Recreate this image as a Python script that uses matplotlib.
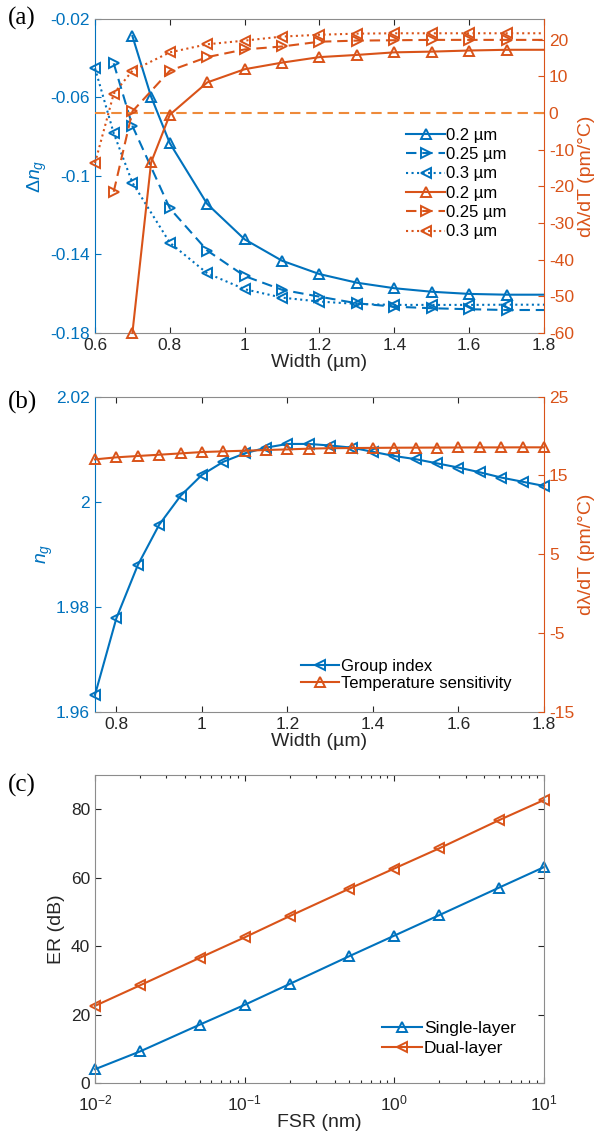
import matplotlib
matplotlib.use('Agg')
import matplotlib.pyplot as plt
from matplotlib.ticker import FuncFormatter, LogLocator, NullFormatter

plt.rcParams['font.family'] = ['Liberation Sans', 'DejaVu Sans']
plt.rcParams['font.size'] = 12.5
plt.rcParams['axes.unicode_minus'] = False
plt.rcParams['mathtext.fontset'] = 'custom'
plt.rcParams['mathtext.rm'] = 'Liberation Sans'
plt.rcParams['mathtext.it'] = 'Liberation Sans:italic'
plt.rcParams['xtick.direction'] = 'in'
plt.rcParams['ytick.direction'] = 'in'

BLUE = '#0072BD'
ORANGE = '#D95319'
ZERO = '#EE8A3A'
DARK = '#262626'
FRAME = '#8c8c8c'
LABEL_FS = 14

# (a) group index change and thermal shift vs. width, three thicknesses
w_02 = [0.7, 0.75, 0.8, 0.9, 1.0, 1.1, 1.2, 1.3, 1.4, 1.5, 1.6, 1.7, 1.8]
w_025 = [0.65, 0.7, 0.8, 0.9, 1.0, 1.1, 1.2, 1.3, 1.4, 1.5, 1.6, 1.7, 1.8]
w_03 = [0.6, 0.65, 0.7, 0.8, 0.9, 1.0, 1.1, 1.2, 1.3, 1.4, 1.5, 1.6, 1.7, 1.8]

dng_02 = [-0.0287, -0.0596, -0.0833, -0.1143, -0.1323, -0.1432, -0.1500,
          -0.1544, -0.1572, -0.1590, -0.1601, -0.1605, -0.1605]
dng_025 = [-0.0426, -0.0745, -0.1165, -0.1380, -0.1510, -0.1580, -0.1615,
           -0.1649, -0.1666, -0.1674, -0.1679, -0.1683, -0.1683]
dng_03 = [-0.0451, -0.0782, -0.1034, -0.1340, -0.1496, -0.1577, -0.1620,
          -0.1640, -0.1652, -0.1657, -0.1657, -0.1657, -0.1656, -0.1656]

dldt_02 = [-60.0, -13.5, -0.5, 8.3, 11.9, 13.7, 15.2, 15.8, 16.5, 16.7, 17.0, 17.2, 17.2]
dldt_025 = [-21.5, 0.4, 11.5, 15.2, 17.3, 18.1, 19.4, 19.7, 19.8, 19.9, 19.9, 19.9, 19.9]
dldt_03 = [-13.7, 5.2, 11.5, 16.5, 18.7, 19.7, 20.8, 21.3, 21.6, 21.7, 21.7, 21.7, 21.7, 21.7]

labels_a = ['0.2 µm', '0.25 µm', '0.3 µm']

# (b) group index and temperature sensitivity
w_b = [0.75, 0.8, 0.85, 0.9, 0.95, 1.0, 1.05, 1.1, 1.15, 1.2, 1.25, 1.3, 1.35,
       1.4, 1.45, 1.5, 1.55, 1.6, 1.65, 1.7, 1.75, 1.8]
ng = [1.9632, 1.9778, 1.9879, 1.9956, 2.0011, 2.0051, 2.0076, 2.0092, 2.0103,
      2.0110, 2.0110, 2.0107, 2.0103, 2.0095, 2.0087, 2.0081, 2.0073, 2.0065,
      2.0056, 2.0046, 2.0038, 2.0030]
ts = [17.04, 17.30, 17.47, 17.63, 17.80, 17.97, 18.06, 18.14, 18.23, 18.31,
      18.40, 18.46, 18.48, 18.50, 18.52, 18.53, 18.54, 18.55, 18.56, 18.56,
      18.57, 18.57]

# (c) extinction ratio vs. FSR
fsr = [0.01, 0.02, 0.05, 0.1, 0.2, 0.5, 1, 2, 5, 10]
er_single = [4.1, 9.3, 17.1, 22.9, 29.0, 37.1, 43.1, 49.1, 57.1, 63.1]
er_dual = [22.6, 28.6, 36.6, 42.6, 48.8, 56.8, 62.7, 68.6, 76.8, 82.7]

gfmt = FuncFormatter(lambda v, p: '%g' % v)
mk = dict(markersize=6.5, markerfacecolor='none', markeredgewidth=1.4)


def style_twin(ax, ax2):
    for s in ['right', 'top', 'bottom']:
        ax.spines[s].set_visible(s != 'right')
    for s in ['left', 'top', 'bottom']:
        ax2.spines[s].set_visible(False)
    ax.spines['left'].set_color(BLUE)
    ax2.spines['right'].set_color(ORANGE)
    ax.spines['top'].set_color(FRAME)
    ax.spines['bottom'].set_color(FRAME)
    for sp in list(ax.spines.values()) + list(ax2.spines.values()):
        sp.set_linewidth(0.8)
    ax.tick_params(axis='x', top=True, colors=DARK, length=4, width=0.8)
    ax.tick_params(axis='y', colors=BLUE, length=4, width=0.8)
    ax2.tick_params(axis='y', colors=ORANGE, length=4, width=0.8)
    ax.xaxis.set_major_formatter(gfmt)
    ax.yaxis.set_major_formatter(gfmt)
    ax2.yaxis.set_major_formatter(gfmt)


def line_kw(ls):
    # longer dashes, closer to the look of the original figure
    if ls == '--':
        return dict(ls=(0, (5, 2.8)))
    return dict(ls=ls)


fig = plt.figure(figsize=(5.97, 11.36), dpi=100)

# ---- (a)
ax = fig.add_axes([0.1591, 0.7069, 0.7521, 0.2764])
ax2 = ax.twinx()
styles = ['-', '--', ':']
markers = ['^', '>', '<']
wa = [w_02, w_025, w_03]
da = [dng_02, dng_025, dng_03]
ta = [dldt_02, dldt_025, dldt_03]
handles = []
for i in range(3):
    h, = ax.plot(wa[i], da[i], color=BLUE, marker=markers[i], lw=1.5,
                 markevery=list(range(len(wa[i]) - 1)), clip_on=False,
                 **line_kw(styles[i]), **mk)
    handles.append(h)
ax2.axhline(0, color=ZERO, lw=1.5, **line_kw('--'))
for i in range(3):
    h, = ax2.plot(wa[i], ta[i], color=ORANGE, marker=markers[i], lw=1.5,
                  markevery=list(range(len(wa[i]) - 1)), clip_on=False,
                  **line_kw(styles[i]), **mk)
    handles.append(h)
ax.set_xlim(0.6, 1.8)
ax.set_ylim(-0.18, -0.02)
ax2.set_ylim(-60, 25.6)
ax.set_xticks([0.6, 0.8, 1.0, 1.2, 1.4, 1.6, 1.8])
ax.set_yticks([-0.18, -0.14, -0.1, -0.06, -0.02])
ax2.set_yticks(range(-60, 21, 10))
style_twin(ax, ax2)
ax.set_xlabel('Width (µm)', color=DARK, labelpad=1, fontsize=LABEL_FS)
ax.set_ylabel(r'$\Delta n_g$', color=BLUE, labelpad=1, fontsize=LABEL_FS)
ax2.set_ylabel('dλ/dT (pm/°C)', color=ORANGE, labelpad=3, fontsize=LABEL_FS)
ax2.legend(handles, labels_a * 2, loc='upper left', bbox_to_anchor=(0.675, 0.68),
           frameon=False, handlelength=2.3, handletextpad=0.1, labelspacing=0.26,
           borderpad=0, fontsize=12)
fig.text(0.013, 0.984, '(a)', family='Liberation Serif', fontsize=18, va='center')

# ---- (b)
bx = fig.add_axes([0.1591, 0.3735, 0.7521, 0.2773])
bx2 = bx.twinx()
hb1, = bx.plot(w_b, ng, color=BLUE, marker='<', lw=1.5, clip_on=False, **mk)
hb2, = bx2.plot(w_b, ts, color=ORANGE, marker='^', lw=1.5, clip_on=False, **mk)
bx.set_xlim(0.75, 1.8)
bx.set_ylim(1.96, 2.02)
bx2.set_ylim(-15, 25)
bx.set_xticks([0.8, 1.0, 1.2, 1.4, 1.6, 1.8])
bx.set_yticks([1.96, 1.98, 2.0, 2.02])
bx2.set_yticks([-15, -5, 5, 15, 25])
style_twin(bx, bx2)
bx.set_xlabel('Width (µm)', color=DARK, labelpad=1, fontsize=LABEL_FS)
bx.set_ylabel(r'$n_g$', color=BLUE, labelpad=1, fontsize=LABEL_FS)
bx2.set_ylabel('dλ/dT (pm/°C)', color=ORANGE, labelpad=3, fontsize=LABEL_FS)
bx2.legend([hb1, hb2], ['Group index', 'Temperature sensitivity'], loc='lower left',
           bbox_to_anchor=(0.44, 0.04), frameon=False, handlelength=2.3,
           handletextpad=0.1, labelspacing=0.1, borderpad=0, fontsize=12)
fig.text(0.013, 0.646, '(b)', family='Liberation Serif', fontsize=18, va='center')

# ---- (c)
cx = fig.add_axes([0.1591, 0.0464, 0.7521, 0.2714])
cx.semilogx(fsr, er_single, color=BLUE, marker='^', lw=1.5, clip_on=False,
            label='Single-layer', **mk)
cx.semilogx(fsr, er_dual, color=ORANGE, marker='<', lw=1.5, clip_on=False,
            label='Dual-layer', **mk)
cx.set_xlim(0.01, 10)
cx.set_ylim(0, 90)
cx.set_yticks([0, 20, 40, 60, 80])
cx.xaxis.set_major_locator(LogLocator(base=10, numticks=10))
cx.xaxis.set_minor_locator(LogLocator(base=10, subs=range(2, 10), numticks=10))
cx.xaxis.set_minor_formatter(NullFormatter())
for sp in cx.spines.values():
    sp.set_color(FRAME)
    sp.set_linewidth(0.8)
cx.tick_params(which='both', top=True, right=True, colors=DARK, width=0.8)
cx.tick_params(which='major', length=4)
cx.tick_params(which='minor', length=2.5)
cx.tick_params(axis='x', which='major', pad=7)
cx.set_xlabel('FSR (nm)', color=DARK, labelpad=1, fontsize=LABEL_FS)
cx.set_ylabel('ER (dB)', color=DARK, labelpad=4, fontsize=LABEL_FS)
cx.legend(loc='lower left', bbox_to_anchor=(0.62, 0.06), frameon=False,
          handlelength=2.3, handletextpad=0.1, labelspacing=0.3, borderpad=0,
          fontsize=12.5)
fig.text(0.013, 0.309, '(c)', family='Liberation Serif', fontsize=18, va='center')

fig.savefig('out.png', dpi=100)
